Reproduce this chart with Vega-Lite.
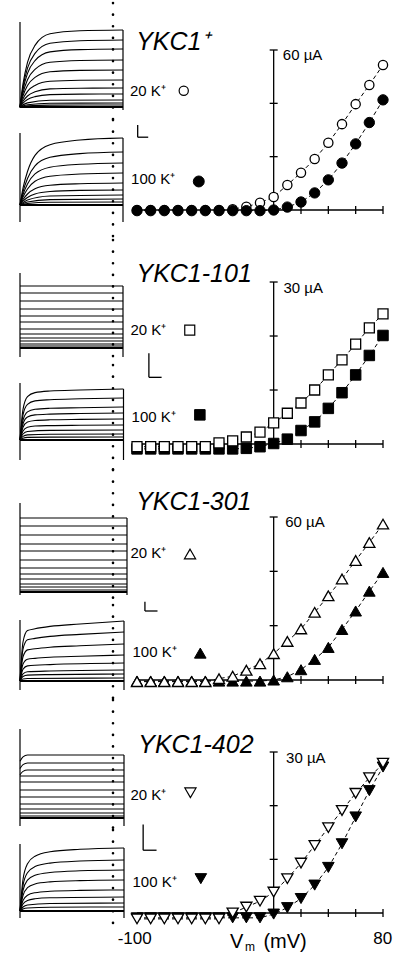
{
"$schema": "https://vega.github.io/schema/vega-lite/v6.json",
"padding": {"left": 17, "top": 0, "right": 0, "bottom": 0},
"background": "white",
"config": {"view": {"stroke": null}},
"spacing": 0,
"bounds": "flush",
"vconcat": [
{"width": 376, "height": 240, "resolve": {"scale": {"x": "independent", "y": "independent"}},
 "layer": [
  {"encoding": {"x": {"field": "t", "type": "quantitative", "scale": {"domain": [0, 7.52], "nice": false, "zero": false}, "axis": null},
                "y": {"field": "i", "type": "quantitative", "scale": {"domain": [-133, 107], "nice": false, "zero": false}, "axis": null}},
   "layer": [
    {"data": {"name": "tr"}, "transform": [{"filter": "datum.p == '1U'"}], "mark": {"type": "line", "interpolate": "monotone", "color": "black", "strokeWidth": 1.1}, "encoding": {"detail": {"field": "c", "type": "nominal"}}},
    {"data": {"name": "fr"}, "transform": [{"filter": "datum.p == '1U' && datum.k == 'f'"}], "mark": {"type": "rule", "color": "black", "strokeWidth": 1.2}, "encoding": {"x2": {"field": "t2"}, "y2": {"field": "i2"}}},
    {"data": {"name": "fr"}, "transform": [{"filter": "datum.p == '1U' && datum.k == 'b'"}], "mark": {"type": "rule", "color": "black", "strokeWidth": 2}, "encoding": {"x2": {"field": "t2"}, "y2": {"field": "i2"}}},
    {"data": {"name": "fr"}, "transform": [{"filter": "datum.p == '1U' && datum.k == 'd'"}], "mark": {"type": "rule", "color": "black", "strokeWidth": 2.6, "strokeCap": "round", "strokeDash": [0.1, 11.5]}, "encoding": {"x2": {"field": "t2"}, "y2": {"field": "i2"}}}
   ]},
  {"encoding": {"x": {"field": "t", "type": "quantitative", "scale": {"domain": [0, 7.52], "nice": false, "zero": false}, "axis": null},
                "y": {"field": "i", "type": "quantitative", "scale": {"domain": [-35, 205], "nice": false, "zero": false}, "axis": null}},
   "layer": [
    {"data": {"name": "tr"}, "transform": [{"filter": "datum.p == '1L'"}], "mark": {"type": "line", "interpolate": "monotone", "color": "black", "strokeWidth": 1.1}, "encoding": {"detail": {"field": "c", "type": "nominal"}}},
    {"data": {"name": "fr"}, "transform": [{"filter": "datum.p == '1L' && datum.k == 'f'"}], "mark": {"type": "rule", "color": "black", "strokeWidth": 1.2}, "encoding": {"x2": {"field": "t2"}, "y2": {"field": "i2"}}},
    {"data": {"name": "fr"}, "transform": [{"filter": "datum.p == '1L' && datum.k == 'b'"}], "mark": {"type": "rule", "color": "black", "strokeWidth": 2}, "encoding": {"x2": {"field": "t2"}, "y2": {"field": "i2"}}},
    {"data": {"name": "fr"}, "transform": [{"filter": "datum.p == '1L' && datum.k == 'd'"}], "mark": {"type": "rule", "color": "black", "strokeWidth": 2.6, "strokeCap": "round", "strokeDash": [0.1, 11.5]}, "encoding": {"x2": {"field": "t2"}, "y2": {"field": "i2"}}}
   ]},
  {"encoding": {"x": {"field": "v", "type": "quantitative", "scale": {"domain": [-185.61, 89.51], "nice": false, "zero": false}, "axis": null},
                "y": {"field": "i", "type": "quantitative", "scale": {"domain": [-11.25, 78.75], "nice": false, "zero": false}, "axis": null}},
   "layer": [
    {"data": {"name": "ivr"}, "transform": [{"filter": "datum.r == 1"}], "mark": {"type": "rule", "color": "black", "strokeWidth": 1.3}, "encoding": {"x2": {"field": "v2"}, "y2": {"field": "i2"}}},
    {"data": {"name": "ivt"}, "transform": [{"filter": "datum.r == 1 && datum.a == 'y'"}], "mark": {"type": "tick", "orient": "horizontal", "color": "black", "size": 8, "thickness": 1.3, "opacity": 1}},
    {"data": {"name": "ivt"}, "transform": [{"filter": "datum.r == 1 && datum.a == 'x'"}], "mark": {"type": "tick", "orient": "vertical", "color": "black", "size": 8, "thickness": 1.3, "opacity": 1}},
    {"data": {"name": "iv"}, "transform": [{"filter": "datum.r == 1"}], "mark": {"type": "line", "color": "black", "strokeWidth": 1, "strokeDash": [4, 3]}, "encoding": {"detail": {"field": "s", "type": "nominal"}}},
    {"data": {"name": "iv"}, "transform": [{"filter": "datum.r == 1 && datum.s == 'o'"}], "mark": {"type": "point", "shape": "circle", "filled": true, "fill": "white", "stroke": "black", "strokeWidth": 1.3, "size": 85, "opacity": 1}},
    {"data": {"name": "iv"}, "transform": [{"filter": "datum.r == 1 && datum.s == 'f'"}], "mark": {"type": "point", "shape": "circle", "filled": true, "fill": "black", "stroke": "black", "strokeWidth": 1, "size": 107, "opacity": 1}},
    {"data": {"name": "key"}, "transform": [{"filter": "datum.r == 1 && datum.s == 'o'"}], "mark": {"type": "point", "shape": "circle", "filled": true, "fill": "white", "stroke": "black", "strokeWidth": 1.2, "size": 85, "opacity": 1}},
    {"data": {"name": "key"}, "transform": [{"filter": "datum.r == 1 && datum.s == 'f'"}], "mark": {"type": "point", "shape": "circle", "filled": true, "fill": "black", "stroke": "black", "strokeWidth": 1, "size": 120, "opacity": 1}},
    {"data": {"name": "txt"}, "transform": [{"filter": "datum.r == 1 && datum.k == 'title'"}], "mark": {"type": "text", "align": "left", "baseline": "alphabetic", "fontSize": 25, "fontStyle": "italic", "font": "Liberation Sans", "color": "black"}, "encoding": {"text": {"field": "label"}}},
    {"data": {"name": "txt"}, "transform": [{"filter": "datum.r == 1 && datum.k == 'lab'"}], "mark": {"type": "text", "align": "left", "baseline": "alphabetic", "fontSize": 15, "font": "Liberation Sans", "color": "black"}, "encoding": {"text": {"field": "label"}}}
   ]}
 ]},
{"width": 376, "height": 230, "resolve": {"scale": {"x": "independent", "y": "independent"}},
 "layer": [
  {"encoding": {"x": {"field": "t", "type": "quantitative", "scale": {"domain": [0, 7.52], "nice": false, "zero": false}, "axis": null},
                "y": {"field": "i", "type": "quantitative", "scale": {"domain": [-122, 108], "nice": false, "zero": false}, "axis": null}},
   "layer": [
    {"data": {"name": "tr"}, "transform": [{"filter": "datum.p == '2U'"}], "mark": {"type": "line", "interpolate": "monotone", "color": "black", "strokeWidth": 1.1}, "encoding": {"detail": {"field": "c", "type": "nominal"}}},
    {"data": {"name": "fr"}, "transform": [{"filter": "datum.p == '2U' && datum.k == 'f'"}], "mark": {"type": "rule", "color": "black", "strokeWidth": 1.2}, "encoding": {"x2": {"field": "t2"}, "y2": {"field": "i2"}}},
    {"data": {"name": "fr"}, "transform": [{"filter": "datum.p == '2U' && datum.k == 'b'"}], "mark": {"type": "rule", "color": "black", "strokeWidth": 2}, "encoding": {"x2": {"field": "t2"}, "y2": {"field": "i2"}}},
    {"data": {"name": "fr"}, "transform": [{"filter": "datum.p == '2U' && datum.k == 'd'"}], "mark": {"type": "rule", "color": "black", "strokeWidth": 2.6, "strokeCap": "round", "strokeDash": [0.1, 11.5]}, "encoding": {"x2": {"field": "t2"}, "y2": {"field": "i2"}}}
   ]},
  {"encoding": {"x": {"field": "t", "type": "quantitative", "scale": {"domain": [0, 7.52], "nice": false, "zero": false}, "axis": null},
                "y": {"field": "i", "type": "quantitative", "scale": {"domain": [-30, 200], "nice": false, "zero": false}, "axis": null}},
   "layer": [
    {"data": {"name": "tr"}, "transform": [{"filter": "datum.p == '2L'"}], "mark": {"type": "line", "interpolate": "monotone", "color": "black", "strokeWidth": 1.1}, "encoding": {"detail": {"field": "c", "type": "nominal"}}},
    {"data": {"name": "fr"}, "transform": [{"filter": "datum.p == '2L' && datum.k == 'f'"}], "mark": {"type": "rule", "color": "black", "strokeWidth": 1.2}, "encoding": {"x2": {"field": "t2"}, "y2": {"field": "i2"}}},
    {"data": {"name": "fr"}, "transform": [{"filter": "datum.p == '2L' && datum.k == 'b'"}], "mark": {"type": "rule", "color": "black", "strokeWidth": 2}, "encoding": {"x2": {"field": "t2"}, "y2": {"field": "i2"}}},
    {"data": {"name": "fr"}, "transform": [{"filter": "datum.p == '2L' && datum.k == 'd'"}], "mark": {"type": "rule", "color": "black", "strokeWidth": 2.6, "strokeCap": "round", "strokeDash": [0.1, 11.5]}, "encoding": {"x2": {"field": "t2"}, "y2": {"field": "i2"}}}
   ]},
  {"encoding": {"x": {"field": "v", "type": "quantitative", "scale": {"domain": [-185.61, 89.51], "nice": false, "zero": false}, "axis": null},
                "y": {"field": "i", "type": "quantitative", "scale": {"domain": [-4.81, 37.78], "nice": false, "zero": false}, "axis": null}},
   "layer": [
    {"data": {"name": "ivr"}, "transform": [{"filter": "datum.r == 2"}], "mark": {"type": "rule", "color": "black", "strokeWidth": 1.3}, "encoding": {"x2": {"field": "v2"}, "y2": {"field": "i2"}}},
    {"data": {"name": "ivt"}, "transform": [{"filter": "datum.r == 2 && datum.a == 'y'"}], "mark": {"type": "tick", "orient": "horizontal", "color": "black", "size": 8, "thickness": 1.3, "opacity": 1}},
    {"data": {"name": "ivt"}, "transform": [{"filter": "datum.r == 2 && datum.a == 'x'"}], "mark": {"type": "tick", "orient": "vertical", "color": "black", "size": 8, "thickness": 1.3, "opacity": 1}},
    {"data": {"name": "iv"}, "transform": [{"filter": "datum.r == 2"}], "mark": {"type": "line", "color": "black", "strokeWidth": 1, "strokeDash": [4, 3]}, "encoding": {"detail": {"field": "s", "type": "nominal"}}},
    {"data": {"name": "iv"}, "transform": [{"filter": "datum.r == 2 && datum.s == 'f'"}], "mark": {"type": "point", "shape": "square", "filled": true, "fill": "black", "stroke": "black", "strokeWidth": 1, "size": 110, "opacity": 1}},
    {"data": {"name": "iv"}, "transform": [{"filter": "datum.r == 2 && datum.s == 'o'"}], "mark": {"type": "point", "shape": "square", "filled": true, "fill": "white", "stroke": "black", "strokeWidth": 1.3, "size": 100, "opacity": 1}},
    {"data": {"name": "key"}, "transform": [{"filter": "datum.r == 2 && datum.s == 'o'"}], "mark": {"type": "point", "shape": "square", "filled": true, "fill": "white", "stroke": "black", "strokeWidth": 1.2, "size": 100, "opacity": 1}},
    {"data": {"name": "key"}, "transform": [{"filter": "datum.r == 2 && datum.s == 'f'"}], "mark": {"type": "point", "shape": "square", "filled": true, "fill": "black", "stroke": "black", "strokeWidth": 1, "size": 110, "opacity": 1}},
    {"data": {"name": "txt"}, "transform": [{"filter": "datum.r == 2 && datum.k == 'title'"}], "mark": {"type": "text", "align": "left", "baseline": "alphabetic", "fontSize": 25, "fontStyle": "italic", "font": "Liberation Sans", "color": "black"}, "encoding": {"text": {"field": "label"}}},
    {"data": {"name": "txt"}, "transform": [{"filter": "datum.r == 2 && datum.k == 'lab'"}], "mark": {"type": "text", "align": "left", "baseline": "alphabetic", "fontSize": 15, "font": "Liberation Sans", "color": "black"}, "encoding": {"text": {"field": "label"}}}
   ]}
 ]},
{"width": 376, "height": 230, "resolve": {"scale": {"x": "independent", "y": "independent"}},
 "layer": [
  {"encoding": {"x": {"field": "t", "type": "quantitative", "scale": {"domain": [0, 7.52], "nice": false, "zero": false}, "axis": null},
                "y": {"field": "i", "type": "quantitative", "scale": {"domain": [-108, 122], "nice": false, "zero": false}, "axis": null}},
   "layer": [
    {"data": {"name": "tr"}, "transform": [{"filter": "datum.p == '3U'"}], "mark": {"type": "line", "interpolate": "monotone", "color": "black", "strokeWidth": 1.1}, "encoding": {"detail": {"field": "c", "type": "nominal"}}},
    {"data": {"name": "fr"}, "transform": [{"filter": "datum.p == '3U' && datum.k == 'f'"}], "mark": {"type": "rule", "color": "black", "strokeWidth": 1.2}, "encoding": {"x2": {"field": "t2"}, "y2": {"field": "i2"}}},
    {"data": {"name": "fr"}, "transform": [{"filter": "datum.p == '3U' && datum.k == 'b'"}], "mark": {"type": "rule", "color": "black", "strokeWidth": 2}, "encoding": {"x2": {"field": "t2"}, "y2": {"field": "i2"}}},
    {"data": {"name": "fr"}, "transform": [{"filter": "datum.p == '3U' && datum.k == 'd'"}], "mark": {"type": "rule", "color": "black", "strokeWidth": 2.6, "strokeCap": "round", "strokeDash": [0.1, 11.5]}, "encoding": {"x2": {"field": "t2"}, "y2": {"field": "i2"}}}
   ]},
  {"encoding": {"x": {"field": "t", "type": "quantitative", "scale": {"domain": [0, 7.52], "nice": false, "zero": false}, "axis": null},
                "y": {"field": "i", "type": "quantitative", "scale": {"domain": [-19, 211], "nice": false, "zero": false}, "axis": null}},
   "layer": [
    {"data": {"name": "tr"}, "transform": [{"filter": "datum.p == '3L'"}], "mark": {"type": "line", "interpolate": "monotone", "color": "black", "strokeWidth": 1.1}, "encoding": {"detail": {"field": "c", "type": "nominal"}}},
    {"data": {"name": "fr"}, "transform": [{"filter": "datum.p == '3L' && datum.k == 'f'"}], "mark": {"type": "rule", "color": "black", "strokeWidth": 1.2}, "encoding": {"x2": {"field": "t2"}, "y2": {"field": "i2"}}},
    {"data": {"name": "fr"}, "transform": [{"filter": "datum.p == '3L' && datum.k == 'b'"}], "mark": {"type": "rule", "color": "black", "strokeWidth": 2}, "encoding": {"x2": {"field": "t2"}, "y2": {"field": "i2"}}},
    {"data": {"name": "fr"}, "transform": [{"filter": "datum.p == '3L' && datum.k == 'd'"}], "mark": {"type": "rule", "color": "black", "strokeWidth": 2.6, "strokeCap": "round", "strokeDash": [0.1, 11.5]}, "encoding": {"x2": {"field": "t2"}, "y2": {"field": "i2"}}}
   ]},
  {"encoding": {"x": {"field": "v", "type": "quantitative", "scale": {"domain": [-185.61, 89.51], "nice": false, "zero": false}, "axis": null},
                "y": {"field": "i", "type": "quantitative", "scale": {"domain": [-7.36, 77.3], "nice": false, "zero": false}, "axis": null}},
   "layer": [
    {"data": {"name": "ivr"}, "transform": [{"filter": "datum.r == 3"}], "mark": {"type": "rule", "color": "black", "strokeWidth": 1.3}, "encoding": {"x2": {"field": "v2"}, "y2": {"field": "i2"}}},
    {"data": {"name": "ivt"}, "transform": [{"filter": "datum.r == 3 && datum.a == 'y'"}], "mark": {"type": "tick", "orient": "horizontal", "color": "black", "size": 8, "thickness": 1.3, "opacity": 1}},
    {"data": {"name": "ivt"}, "transform": [{"filter": "datum.r == 3 && datum.a == 'x'"}], "mark": {"type": "tick", "orient": "vertical", "color": "black", "size": 8, "thickness": 1.3, "opacity": 1}},
    {"data": {"name": "iv"}, "transform": [{"filter": "datum.r == 3"}], "mark": {"type": "line", "color": "black", "strokeWidth": 1, "strokeDash": [4, 3]}, "encoding": {"detail": {"field": "s", "type": "nominal"}}},
    {"data": {"name": "iv"}, "transform": [{"filter": "datum.r == 3 && datum.s == 'f'"}], "mark": {"type": "point", "shape": "triangle-up", "filled": true, "fill": "black", "stroke": "black", "strokeWidth": 1, "size": 135, "opacity": 1}},
    {"data": {"name": "iv"}, "transform": [{"filter": "datum.r == 3 && datum.s == 'o'"}], "mark": {"type": "point", "shape": "triangle-up", "filled": true, "fill": "white", "stroke": "black", "strokeWidth": 1.3, "size": 125, "opacity": 1}},
    {"data": {"name": "key"}, "transform": [{"filter": "datum.r == 3 && datum.s == 'o'"}], "mark": {"type": "point", "shape": "triangle-up", "filled": true, "fill": "white", "stroke": "black", "strokeWidth": 1.2, "size": 125, "opacity": 1}},
    {"data": {"name": "key"}, "transform": [{"filter": "datum.r == 3 && datum.s == 'f'"}], "mark": {"type": "point", "shape": "triangle-up", "filled": true, "fill": "black", "stroke": "black", "strokeWidth": 1, "size": 135, "opacity": 1}},
    {"data": {"name": "txt"}, "transform": [{"filter": "datum.r == 3 && datum.k == 'title'"}], "mark": {"type": "text", "align": "left", "baseline": "alphabetic", "fontSize": 25, "fontStyle": "italic", "font": "Liberation Sans", "color": "black"}, "encoding": {"text": {"field": "label"}}},
    {"data": {"name": "txt"}, "transform": [{"filter": "datum.r == 3 && datum.k == 'lab'"}], "mark": {"type": "text", "align": "left", "baseline": "alphabetic", "fontSize": 15, "font": "Liberation Sans", "color": "black"}, "encoding": {"text": {"field": "label"}}}
   ]}
 ]},
{"width": 376, "height": 256, "resolve": {"scale": {"x": "independent", "y": "independent"}},
 "layer": [
  {"encoding": {"x": {"field": "t", "type": "quantitative", "scale": {"domain": [0, 7.52], "nice": false, "zero": false}, "axis": null},
                "y": {"field": "i", "type": "quantitative", "scale": {"domain": [-138, 118], "nice": false, "zero": false}, "axis": null}},
   "layer": [
    {"data": {"name": "tr"}, "transform": [{"filter": "datum.p == '4U'"}], "mark": {"type": "line", "interpolate": "monotone", "color": "black", "strokeWidth": 1.1}, "encoding": {"detail": {"field": "c", "type": "nominal"}}},
    {"data": {"name": "fr"}, "transform": [{"filter": "datum.p == '4U' && datum.k == 'f'"}], "mark": {"type": "rule", "color": "black", "strokeWidth": 1.2}, "encoding": {"x2": {"field": "t2"}, "y2": {"field": "i2"}}},
    {"data": {"name": "fr"}, "transform": [{"filter": "datum.p == '4U' && datum.k == 'b'"}], "mark": {"type": "rule", "color": "black", "strokeWidth": 2}, "encoding": {"x2": {"field": "t2"}, "y2": {"field": "i2"}}},
    {"data": {"name": "fr"}, "transform": [{"filter": "datum.p == '4U' && datum.k == 'd'"}], "mark": {"type": "rule", "color": "black", "strokeWidth": 2.6, "strokeCap": "round", "strokeDash": [0.1, 11.5]}, "encoding": {"x2": {"field": "t2"}, "y2": {"field": "i2"}}}
   ]},
  {"encoding": {"x": {"field": "t", "type": "quantitative", "scale": {"domain": [0, 7.52], "nice": false, "zero": false}, "axis": null},
                "y": {"field": "i", "type": "quantitative", "scale": {"domain": [-45, 211], "nice": false, "zero": false}, "axis": null}},
   "layer": [
    {"data": {"name": "tr"}, "transform": [{"filter": "datum.p == '4L'"}], "mark": {"type": "line", "interpolate": "monotone", "color": "black", "strokeWidth": 1.1}, "encoding": {"detail": {"field": "c", "type": "nominal"}}},
    {"data": {"name": "fr"}, "transform": [{"filter": "datum.p == '4L' && datum.k == 'f'"}], "mark": {"type": "rule", "color": "black", "strokeWidth": 1.2}, "encoding": {"x2": {"field": "t2"}, "y2": {"field": "i2"}}},
    {"data": {"name": "fr"}, "transform": [{"filter": "datum.p == '4L' && datum.k == 'b'"}], "mark": {"type": "rule", "color": "black", "strokeWidth": 2}, "encoding": {"x2": {"field": "t2"}, "y2": {"field": "i2"}}},
    {"data": {"name": "fr"}, "transform": [{"filter": "datum.p == '4L' && datum.k == 'd'"}], "mark": {"type": "rule", "color": "black", "strokeWidth": 2.6, "strokeCap": "round", "strokeDash": [0.1, 11.5]}, "encoding": {"x2": {"field": "t2"}, "y2": {"field": "i2"}}}
   ]},
  {"encoding": {"x": {"field": "v", "type": "quantitative", "scale": {"domain": [-185.61, 89.51], "nice": false, "zero": false}, "axis": null},
                "y": {"field": "i", "type": "quantitative", "scale": {"domain": [-8.01, 39.69], "nice": false, "zero": false}, "axis": null}},
   "layer": [
    {"data": {"name": "ivr"}, "transform": [{"filter": "datum.r == 4"}], "mark": {"type": "rule", "color": "black", "strokeWidth": 1.3}, "encoding": {"x2": {"field": "v2"}, "y2": {"field": "i2"}}},
    {"data": {"name": "ivt"}, "transform": [{"filter": "datum.r == 4 && datum.a == 'y'"}], "mark": {"type": "tick", "orient": "horizontal", "color": "black", "size": 8, "thickness": 1.3, "opacity": 1}},
    {"data": {"name": "ivt"}, "transform": [{"filter": "datum.r == 4 && datum.a == 'x'"}], "mark": {"type": "tick", "orient": "vertical", "color": "black", "size": 8, "thickness": 1.3, "opacity": 1}},
    {"data": {"name": "iv"}, "transform": [{"filter": "datum.r == 4"}], "mark": {"type": "line", "color": "black", "strokeWidth": 1, "strokeDash": [4, 3]}, "encoding": {"detail": {"field": "s", "type": "nominal"}}},
    {"data": {"name": "iv"}, "transform": [{"filter": "datum.r == 4 && datum.s == 'f'"}], "mark": {"type": "point", "shape": "triangle-down", "filled": true, "fill": "black", "stroke": "black", "strokeWidth": 1, "size": 135, "opacity": 1}},
    {"data": {"name": "iv"}, "transform": [{"filter": "datum.r == 4 && datum.s == 'o'"}], "mark": {"type": "point", "shape": "triangle-down", "filled": true, "fill": "white", "stroke": "black", "strokeWidth": 1.3, "size": 125, "opacity": 1}},
    {"data": {"name": "key"}, "transform": [{"filter": "datum.r == 4 && datum.s == 'o'"}], "mark": {"type": "point", "shape": "triangle-down", "filled": true, "fill": "white", "stroke": "black", "strokeWidth": 1.2, "size": 125, "opacity": 1}},
    {"data": {"name": "key"}, "transform": [{"filter": "datum.r == 4 && datum.s == 'f'"}], "mark": {"type": "point", "shape": "triangle-down", "filled": true, "fill": "black", "stroke": "black", "strokeWidth": 1, "size": 135, "opacity": 1}},
    {"data": {"name": "txt"}, "transform": [{"filter": "datum.r == 4 && datum.k == 'title'"}], "mark": {"type": "text", "align": "left", "baseline": "alphabetic", "fontSize": 25, "fontStyle": "italic", "font": "Liberation Sans", "color": "black"}, "encoding": {"text": {"field": "label"}}},
    {"data": {"name": "txt"}, "transform": [{"filter": "datum.r == 4 && datum.k == 'lab'"}], "mark": {"type": "text", "align": "left", "baseline": "alphabetic", "fontSize": 15, "font": "Liberation Sans", "color": "black"}, "encoding": {"text": {"field": "label"}}},
    {"data": {"name": "txt"}, "transform": [{"filter": "datum.r == 4 && datum.k == 'tick'"}], "mark": {"type": "text", "align": "center", "baseline": "alphabetic", "fontSize": 17, "font": "Liberation Sans", "color": "black"}, "encoding": {"text": {"field": "label"}}},
    {"data": {"name": "txt"}, "transform": [{"filter": "datum.r == 4 && datum.k == 'vt'"}], "mark": {"type": "text", "align": "left", "baseline": "alphabetic", "fontSize": 20, "font": "Liberation Sans", "color": "black"}, "encoding": {"text": {"field": "label"}}},
    {"data": {"name": "txt"}, "transform": [{"filter": "datum.r == 4 && datum.k == 'sub'"}], "mark": {"type": "text", "align": "left", "baseline": "alphabetic", "fontSize": 12, "font": "Liberation Sans", "color": "black"}, "encoding": {"text": {"field": "label"}}}
   ]}
 ]}
],
"datasets": {
"fr": [
{"p":"1U","k":"f","t":0,"t2":0,"i":85,"i2":-1},{"p":"1U","k":"f","t":2.06,"t2":2.06,"i":77,"i2":-3},{"p":"1U","k":"b","t":0,"t2":2.06,"i":0,"i2":0},{"p":"1U","k":"d","t":1.86,"t2":1.86,"i":104,"i2":-13},
{"p":"1L","k":"f","t":0,"t2":0,"i":72,"i2":-17},{"p":"1L","k":"f","t":2.06,"t2":2.06,"i":67,"i2":-17},{"p":"1L","k":"b","t":0,"t2":2.06,"i":0,"i2":0},{"p":"1L","k":"d","t":1.86,"t2":1.86,"i":85,"i2":-35},
{"p":"2U","k":"f","t":0,"t2":0,"i":75,"i2":-9},{"p":"2U","k":"f","t":2.06,"t2":2.06,"i":62,"i2":-9},{"p":"2U","k":"b","t":0,"t2":2.06,"i":0,"i2":0},{"p":"2U","k":"d","t":1.86,"t2":1.86,"i":108,"i2":-17},
{"p":"2L","k":"f","t":0,"t2":0,"i":57,"i2":-20},{"p":"2L","k":"f","t":2.07,"t2":2.07,"i":51,"i2":-20},{"p":"2L","k":"b","t":0,"t2":2.07,"i":0,"i2":0},{"p":"2L","k":"d","t":1.86,"t2":1.86,"i":75,"i2":-30},
{"p":"3U","k":"f","t":0,"t2":0,"i":89,"i2":-3},{"p":"3U","k":"f","t":2.14,"t2":2.14,"i":74,"i2":-3},{"p":"3U","k":"b","t":0,"t2":2.14,"i":0,"i2":0},{"p":"3U","k":"d","t":1.86,"t2":1.86,"i":122,"i2":-13},
{"p":"3L","k":"f","t":0,"t2":0,"i":61,"i2":-9},{"p":"3L","k":"f","t":2.08,"t2":2.08,"i":60,"i2":-9},{"p":"3L","k":"b","t":0,"t2":2.08,"i":0,"i2":0},{"p":"3L","k":"d","t":1.86,"t2":1.86,"i":76,"i2":-19},
{"p":"4U","k":"f","t":0,"t2":0,"i":89,"i2":-8},{"p":"4U","k":"f","t":2.08,"t2":2.08,"i":63,"i2":-8},{"p":"4U","k":"b","t":0,"t2":2.08,"i":0,"i2":0},{"p":"4U","k":"d","t":1.86,"t2":1.86,"i":118,"i2":-12},
{"p":"4L","k":"f","t":0,"t2":0,"i":67,"i2":-7},{"p":"4L","k":"f","t":2.08,"t2":2.08,"i":63,"i2":-7},{"p":"4L","k":"b","t":0,"t2":2.08,"i":0,"i2":0},{"p":"4L","k":"d","t":1.86,"t2":1.86,"i":81,"i2":-17}
],
"tr": [
{"p":"1U","c":1,"t":0,"i":0},{"p":"1U","c":1,"t":0.06,"i":23.1},{"p":"1U","c":1,"t":0.15,"i":44.7},{"p":"1U","c":1,"t":0.3,"i":61.6},{"p":"1U","c":1,"t":0.6,"i":73.2},{"p":"1U","c":1,"t":1.2,"i":76.2},{"p":"1U","c":1,"t":2.06,"i":77},
{"p":"1U","c":2,"t":0,"i":0},{"p":"1U","c":2,"t":0.06,"i":20.1},{"p":"1U","c":2,"t":0.15,"i":38.9},{"p":"1U","c":2,"t":0.3,"i":53.6},{"p":"1U","c":2,"t":0.6,"i":63.7},{"p":"1U","c":2,"t":1.2,"i":66.3},{"p":"1U","c":2,"t":2.06,"i":67},
{"p":"1U","c":3,"t":0,"i":0},{"p":"1U","c":3,"t":0.06,"i":17.4},{"p":"1U","c":3,"t":0.15,"i":33.6},{"p":"1U","c":3,"t":0.3,"i":46.4},{"p":"1U","c":3,"t":0.6,"i":55.1},{"p":"1U","c":3,"t":1.2,"i":57.4},{"p":"1U","c":3,"t":2.06,"i":58},
{"p":"1U","c":4,"t":0,"i":0},{"p":"1U","c":4,"t":0.06,"i":14.1},{"p":"1U","c":4,"t":0.15,"i":27.3},{"p":"1U","c":4,"t":0.3,"i":37.6},{"p":"1U","c":4,"t":0.6,"i":44.7},{"p":"1U","c":4,"t":1.2,"i":46.5},{"p":"1U","c":4,"t":2.06,"i":47},
{"p":"1U","c":5,"t":0,"i":0},{"p":"1U","c":5,"t":0.06,"i":11.1},{"p":"1U","c":5,"t":0.15,"i":21.5},{"p":"1U","c":5,"t":0.3,"i":29.6},{"p":"1U","c":5,"t":0.6,"i":35.2},{"p":"1U","c":5,"t":1.2,"i":36.6},{"p":"1U","c":5,"t":2.06,"i":37},
{"p":"1U","c":6,"t":0,"i":0},{"p":"1U","c":6,"t":0.06,"i":8.1},{"p":"1U","c":6,"t":0.15,"i":15.7},{"p":"1U","c":6,"t":0.3,"i":21.6},{"p":"1U","c":6,"t":0.6,"i":25.7},{"p":"1U","c":6,"t":1.2,"i":26.7},{"p":"1U","c":6,"t":2.06,"i":27},
{"p":"1U","c":7,"t":0,"i":0},{"p":"1U","c":7,"t":0.06,"i":5.7},{"p":"1U","c":7,"t":0.15,"i":11},{"p":"1U","c":7,"t":0.3,"i":15.2},{"p":"1U","c":7,"t":0.6,"i":18.1},{"p":"1U","c":7,"t":1.2,"i":18.8},{"p":"1U","c":7,"t":2.06,"i":19},
{"p":"1U","c":8,"t":0,"i":0},{"p":"1U","c":8,"t":0.06,"i":3.9},{"p":"1U","c":8,"t":0.15,"i":7.5},{"p":"1U","c":8,"t":0.3,"i":10.4},{"p":"1U","c":8,"t":0.6,"i":12.4},{"p":"1U","c":8,"t":1.2,"i":12.9},{"p":"1U","c":8,"t":2.06,"i":13},
{"p":"1U","c":9,"t":0,"i":0},{"p":"1U","c":9,"t":0.15,"i":4.1},{"p":"1U","c":9,"t":0.6,"i":6.7},{"p":"1U","c":9,"t":2.06,"i":7},
{"p":"1U","c":10,"t":0,"i":0},{"p":"1U","c":10,"t":0.15,"i":2.3},{"p":"1U","c":10,"t":0.6,"i":3.8},{"p":"1U","c":10,"t":2.06,"i":4},
{"p":"1U","c":11,"t":0,"i":0},{"p":"1U","c":11,"t":0.15,"i":1.2},{"p":"1U","c":11,"t":0.6,"i":1.9},{"p":"1U","c":11,"t":2.06,"i":2},
{"p":"1L","c":1,"t":0,"i":0},{"p":"1L","c":1,"t":0.06,"i":16.8},{"p":"1L","c":1,"t":0.15,"i":33.5},{"p":"1L","c":1,"t":0.3,"i":49.6},{"p":"1L","c":1,"t":0.6,"i":60.3},{"p":"1L","c":1,"t":1.2,"i":65},{"p":"1L","c":1,"t":2.06,"i":67},
{"p":"1L","c":2,"t":0,"i":0},{"p":"1L","c":2,"t":0.06,"i":13.3},{"p":"1L","c":2,"t":0.15,"i":26.5},{"p":"1L","c":2,"t":0.3,"i":39.2},{"p":"1L","c":2,"t":0.6,"i":47.7},{"p":"1L","c":2,"t":1.2,"i":51.4},{"p":"1L","c":2,"t":2.06,"i":53},
{"p":"1L","c":3,"t":0,"i":0},{"p":"1L","c":3,"t":0.06,"i":10.5},{"p":"1L","c":3,"t":0.15,"i":21},{"p":"1L","c":3,"t":0.3,"i":31.1},{"p":"1L","c":3,"t":0.6,"i":37.8},{"p":"1L","c":3,"t":1.2,"i":40.7},{"p":"1L","c":3,"t":2.06,"i":42},
{"p":"1L","c":4,"t":0,"i":0},{"p":"1L","c":4,"t":0.06,"i":8},{"p":"1L","c":4,"t":0.15,"i":16},{"p":"1L","c":4,"t":0.3,"i":23.7},{"p":"1L","c":4,"t":0.6,"i":28.8},{"p":"1L","c":4,"t":1.2,"i":31},{"p":"1L","c":4,"t":2.06,"i":32},
{"p":"1L","c":5,"t":0,"i":0},{"p":"1L","c":5,"t":0.06,"i":5.5},{"p":"1L","c":5,"t":0.15,"i":11},{"p":"1L","c":5,"t":0.3,"i":16.3},{"p":"1L","c":5,"t":0.6,"i":19.8},{"p":"1L","c":5,"t":1.2,"i":21.3},{"p":"1L","c":5,"t":2.06,"i":22},
{"p":"1L","c":6,"t":0,"i":0},{"p":"1L","c":6,"t":0.06,"i":3.8},{"p":"1L","c":6,"t":0.15,"i":7.5},{"p":"1L","c":6,"t":0.3,"i":11.1},{"p":"1L","c":6,"t":0.6,"i":13.5},{"p":"1L","c":6,"t":1.2,"i":14.6},{"p":"1L","c":6,"t":2.06,"i":15},
{"p":"1L","c":7,"t":0,"i":0},{"p":"1L","c":7,"t":0.15,"i":5},{"p":"1L","c":7,"t":0.6,"i":9},{"p":"1L","c":7,"t":2.06,"i":10},
{"p":"1L","c":8,"t":0,"i":0},{"p":"1L","c":8,"t":0.15,"i":3},{"p":"1L","c":8,"t":0.6,"i":5.4},{"p":"1L","c":8,"t":2.06,"i":6},
{"p":"1L","c":9,"t":0,"i":0},{"p":"1L","c":9,"t":0.15,"i":1.5},{"p":"1L","c":9,"t":0.6,"i":2.7},{"p":"1L","c":9,"t":2.06,"i":3},
{"p":"2U","c":1,"t":0,"i":62},{"p":"2U","c":1,"t":2.06,"i":62},
{"p":"2U","c":2,"t":0,"i":55},{"p":"2U","c":2,"t":2.06,"i":55},
{"p":"2U","c":3,"t":0,"i":47},{"p":"2U","c":3,"t":2.06,"i":47},
{"p":"2U","c":4,"t":0,"i":39},{"p":"2U","c":4,"t":2.06,"i":39},
{"p":"2U","c":5,"t":0,"i":32},{"p":"2U","c":5,"t":2.06,"i":32},
{"p":"2U","c":6,"t":0,"i":26},{"p":"2U","c":6,"t":2.06,"i":26},
{"p":"2U","c":7,"t":0,"i":19},{"p":"2U","c":7,"t":2.06,"i":19},
{"p":"2U","c":8,"t":0,"i":14},{"p":"2U","c":8,"t":2.06,"i":14},
{"p":"2U","c":9,"t":0,"i":10},{"p":"2U","c":9,"t":2.06,"i":10},
{"p":"2U","c":10,"t":0,"i":7},{"p":"2U","c":10,"t":2.06,"i":7},
{"p":"2U","c":11,"t":0,"i":4},{"p":"2U","c":11,"t":2.06,"i":4},
{"p":"2U","c":12,"t":0,"i":2},{"p":"2U","c":12,"t":2.06,"i":2},
{"p":"2L","c":1,"t":0,"i":0},{"p":"2L","c":1,"t":0.06,"i":30.6},{"p":"2L","c":1,"t":0.15,"i":43.4},{"p":"2L","c":1,"t":0.3,"i":47.4},{"p":"2L","c":1,"t":0.6,"i":49},{"p":"2L","c":1,"t":1.2,"i":50},{"p":"2L","c":1,"t":2.07,"i":51},
{"p":"2L","c":2,"t":0,"i":0},{"p":"2L","c":2,"t":0.06,"i":25.2},{"p":"2L","c":2,"t":0.15,"i":35.7},{"p":"2L","c":2,"t":0.3,"i":39.1},{"p":"2L","c":2,"t":0.6,"i":40.3},{"p":"2L","c":2,"t":1.2,"i":41.2},{"p":"2L","c":2,"t":2.07,"i":42},
{"p":"2L","c":3,"t":0,"i":0},{"p":"2L","c":3,"t":0.06,"i":19.8},{"p":"2L","c":3,"t":0.15,"i":28.1},{"p":"2L","c":3,"t":0.3,"i":30.7},{"p":"2L","c":3,"t":0.6,"i":31.7},{"p":"2L","c":3,"t":1.2,"i":32.3},{"p":"2L","c":3,"t":2.07,"i":33},
{"p":"2L","c":4,"t":0,"i":0},{"p":"2L","c":4,"t":0.06,"i":16.2},{"p":"2L","c":4,"t":0.15,"i":23},{"p":"2L","c":4,"t":0.3,"i":25.1},{"p":"2L","c":4,"t":0.6,"i":25.9},{"p":"2L","c":4,"t":1.2,"i":26.5},{"p":"2L","c":4,"t":2.07,"i":27},
{"p":"2L","c":5,"t":0,"i":0},{"p":"2L","c":5,"t":0.06,"i":12.6},{"p":"2L","c":5,"t":0.15,"i":17.9},{"p":"2L","c":5,"t":0.3,"i":19.5},{"p":"2L","c":5,"t":0.6,"i":20.2},{"p":"2L","c":5,"t":1.2,"i":20.6},{"p":"2L","c":5,"t":2.07,"i":21},
{"p":"2L","c":6,"t":0,"i":0},{"p":"2L","c":6,"t":0.06,"i":9},{"p":"2L","c":6,"t":0.15,"i":12.8},{"p":"2L","c":6,"t":0.3,"i":14},{"p":"2L","c":6,"t":0.6,"i":14.4},{"p":"2L","c":6,"t":1.2,"i":14.7},{"p":"2L","c":6,"t":2.07,"i":15},
{"p":"2L","c":7,"t":0,"i":0},{"p":"2L","c":7,"t":0.06,"i":6},{"p":"2L","c":7,"t":0.15,"i":8.5},{"p":"2L","c":7,"t":0.6,"i":9.6},{"p":"2L","c":7,"t":2.07,"i":10},
{"p":"2L","c":8,"t":0,"i":0},{"p":"2L","c":8,"t":0.06,"i":3.6},{"p":"2L","c":8,"t":0.15,"i":5.1},{"p":"2L","c":8,"t":0.6,"i":5.8},{"p":"2L","c":8,"t":2.07,"i":6},
{"p":"2L","c":9,"t":0,"i":0},{"p":"2L","c":9,"t":0.06,"i":1.8},{"p":"2L","c":9,"t":0.15,"i":2.6},{"p":"2L","c":9,"t":0.6,"i":2.9},{"p":"2L","c":9,"t":2.07,"i":3},
{"p":"3U","c":1,"t":0,"i":74},{"p":"3U","c":1,"t":2.14,"i":74},
{"p":"3U","c":2,"t":0,"i":66},{"p":"3U","c":2,"t":2.14,"i":66},
{"p":"3U","c":3,"t":0,"i":57},{"p":"3U","c":3,"t":2.14,"i":57},
{"p":"3U","c":4,"t":0,"i":48},{"p":"3U","c":4,"t":2.14,"i":48},
{"p":"3U","c":5,"t":0,"i":41},{"p":"3U","c":5,"t":2.14,"i":41},
{"p":"3U","c":6,"t":0,"i":32},{"p":"3U","c":6,"t":2.14,"i":32},
{"p":"3U","c":7,"t":0,"i":24},{"p":"3U","c":7,"t":2.14,"i":24},
{"p":"3U","c":8,"t":0,"i":18},{"p":"3U","c":8,"t":2.14,"i":18},
{"p":"3U","c":9,"t":0,"i":13},{"p":"3U","c":9,"t":2.14,"i":13},
{"p":"3U","c":10,"t":0,"i":8},{"p":"3U","c":10,"t":2.14,"i":8},
{"p":"3U","c":11,"t":0,"i":5},{"p":"3U","c":11,"t":2.14,"i":5},
{"p":"3U","c":12,"t":0,"i":2},{"p":"3U","c":12,"t":2.14,"i":2},
{"p":"3L","c":1,"t":0,"i":0},{"p":"3L","c":1,"t":0.06,"i":39},{"p":"3L","c":1,"t":0.15,"i":50.4},{"p":"3L","c":1,"t":0.3,"i":52.2},{"p":"3L","c":1,"t":0.6,"i":54.6},{"p":"3L","c":1,"t":1.2,"i":57},{"p":"3L","c":1,"t":2.08,"i":60},
{"p":"3L","c":2,"t":0,"i":0},{"p":"3L","c":2,"t":0.06,"i":31.9},{"p":"3L","c":2,"t":0.15,"i":41.2},{"p":"3L","c":2,"t":0.3,"i":42.6},{"p":"3L","c":2,"t":0.6,"i":44.6},{"p":"3L","c":2,"t":1.2,"i":46.6},{"p":"3L","c":2,"t":2.08,"i":49},
{"p":"3L","c":3,"t":0,"i":0},{"p":"3L","c":3,"t":0.06,"i":24.1},{"p":"3L","c":3,"t":0.15,"i":31.1},{"p":"3L","c":3,"t":0.3,"i":32.2},{"p":"3L","c":3,"t":0.6,"i":33.7},{"p":"3L","c":3,"t":1.2,"i":35.2},{"p":"3L","c":3,"t":2.08,"i":37},
{"p":"3L","c":4,"t":0,"i":0},{"p":"3L","c":4,"t":0.06,"i":16.9},{"p":"3L","c":4,"t":0.15,"i":21.8},{"p":"3L","c":4,"t":0.3,"i":22.6},{"p":"3L","c":4,"t":0.6,"i":23.7},{"p":"3L","c":4,"t":1.2,"i":24.7},{"p":"3L","c":4,"t":2.08,"i":26},
{"p":"3L","c":5,"t":0,"i":0},{"p":"3L","c":5,"t":0.06,"i":11.7},{"p":"3L","c":5,"t":0.15,"i":15.1},{"p":"3L","c":5,"t":0.6,"i":16.4},{"p":"3L","c":5,"t":2.08,"i":18},
{"p":"3L","c":6,"t":0,"i":0},{"p":"3L","c":6,"t":0.06,"i":7.2},{"p":"3L","c":6,"t":0.15,"i":9.2},{"p":"3L","c":6,"t":0.6,"i":10},{"p":"3L","c":6,"t":2.08,"i":11},
{"p":"3L","c":7,"t":0,"i":0},{"p":"3L","c":7,"t":0.06,"i":4.6},{"p":"3L","c":7,"t":0.15,"i":5.9},{"p":"3L","c":7,"t":0.6,"i":6.4},{"p":"3L","c":7,"t":2.08,"i":7},
{"p":"3L","c":8,"t":0,"i":0},{"p":"3L","c":8,"t":0.06,"i":2},{"p":"3L","c":8,"t":0.15,"i":2.5},{"p":"3L","c":8,"t":2.08,"i":3},
{"p":"4U","c":1,"t":0,"i":56.7},{"p":"4U","c":1,"t":0.06,"i":61.1},{"p":"4U","c":1,"t":0.15,"i":63},{"p":"4U","c":1,"t":2.08,"i":63},
{"p":"4U","c":2,"t":0,"i":49.5},{"p":"4U","c":2,"t":0.06,"i":53.4},{"p":"4U","c":2,"t":0.15,"i":55},{"p":"4U","c":2,"t":2.08,"i":55},
{"p":"4U","c":3,"t":0,"i":43.2},{"p":"4U","c":3,"t":0.06,"i":46.6},{"p":"4U","c":3,"t":0.15,"i":48},{"p":"4U","c":3,"t":2.08,"i":48},
{"p":"4U","c":4,"t":0,"i":42},{"p":"4U","c":4,"t":2.08,"i":42},
{"p":"4U","c":5,"t":0,"i":36},{"p":"4U","c":5,"t":2.08,"i":36},
{"p":"4U","c":6,"t":0,"i":28},{"p":"4U","c":6,"t":2.08,"i":28},
{"p":"4U","c":7,"t":0,"i":21},{"p":"4U","c":7,"t":2.08,"i":21},
{"p":"4U","c":8,"t":0,"i":14},{"p":"4U","c":8,"t":2.08,"i":14},
{"p":"4U","c":9,"t":0,"i":9},{"p":"4U","c":9,"t":2.08,"i":9},
{"p":"4U","c":10,"t":0,"i":5},{"p":"4U","c":10,"t":2.08,"i":5},
{"p":"4U","c":11,"t":0,"i":2},{"p":"4U","c":11,"t":2.08,"i":2},
{"p":"4L","c":1,"t":0,"i":0},{"p":"4L","c":1,"t":0.06,"i":31.5},{"p":"4L","c":1,"t":0.15,"i":47.3},{"p":"4L","c":1,"t":0.3,"i":54.8},{"p":"4L","c":1,"t":0.6,"i":59.2},{"p":"4L","c":1,"t":1.2,"i":61.7},{"p":"4L","c":1,"t":2.08,"i":63},
{"p":"4L","c":2,"t":0,"i":0},{"p":"4L","c":2,"t":0.06,"i":25.5},{"p":"4L","c":2,"t":0.15,"i":38.3},{"p":"4L","c":2,"t":0.3,"i":44.4},{"p":"4L","c":2,"t":0.6,"i":47.9},{"p":"4L","c":2,"t":1.2,"i":50},{"p":"4L","c":2,"t":2.08,"i":51},
{"p":"4L","c":3,"t":0,"i":0},{"p":"4L","c":3,"t":0.06,"i":20.5},{"p":"4L","c":3,"t":0.15,"i":30.8},{"p":"4L","c":3,"t":0.3,"i":35.7},{"p":"4L","c":3,"t":0.6,"i":38.5},{"p":"4L","c":3,"t":1.2,"i":40.2},{"p":"4L","c":3,"t":2.08,"i":41},
{"p":"4L","c":4,"t":0,"i":0},{"p":"4L","c":4,"t":0.06,"i":15.5},{"p":"4L","c":4,"t":0.15,"i":23.3},{"p":"4L","c":4,"t":0.3,"i":27},{"p":"4L","c":4,"t":0.6,"i":29.1},{"p":"4L","c":4,"t":1.2,"i":30.4},{"p":"4L","c":4,"t":2.08,"i":31},
{"p":"4L","c":5,"t":0,"i":0},{"p":"4L","c":5,"t":0.06,"i":10.5},{"p":"4L","c":5,"t":0.15,"i":15.8},{"p":"4L","c":5,"t":0.3,"i":18.3},{"p":"4L","c":5,"t":0.6,"i":19.7},{"p":"4L","c":5,"t":1.2,"i":20.6},{"p":"4L","c":5,"t":2.08,"i":21},
{"p":"4L","c":6,"t":0,"i":0},{"p":"4L","c":6,"t":0.06,"i":7},{"p":"4L","c":6,"t":0.15,"i":10.5},{"p":"4L","c":6,"t":0.3,"i":12.2},{"p":"4L","c":6,"t":0.6,"i":13.2},{"p":"4L","c":6,"t":2.08,"i":14},
{"p":"4L","c":7,"t":0,"i":0},{"p":"4L","c":7,"t":0.06,"i":4},{"p":"4L","c":7,"t":0.15,"i":6},{"p":"4L","c":7,"t":0.6,"i":7.5},{"p":"4L","c":7,"t":2.08,"i":8},
{"p":"4L","c":8,"t":0,"i":0},{"p":"4L","c":8,"t":0.06,"i":2},{"p":"4L","c":8,"t":0.15,"i":3},{"p":"4L","c":8,"t":0.6,"i":3.8},{"p":"4L","c":8,"t":2.08,"i":4}
],
"iv": [
{"r":1,"s":"o","v":-100,"i":0},{"r":1,"s":"o","v":-90,"i":0},{"r":1,"s":"o","v":-80,"i":0},{"r":1,"s":"o","v":-70,"i":0},{"r":1,"s":"o","v":-60,"i":0},{"r":1,"s":"o","v":-50,"i":0},{"r":1,"s":"o","v":-40,"i":0},{"r":1,"s":"o","v":-30,"i":0.3},{"r":1,"s":"o","v":-20,"i":1.2},{"r":1,"s":"o","v":-10,"i":2.7},{"r":1,"s":"o","v":0,"i":4.9},{"r":1,"s":"o","v":10,"i":9.4},{"r":1,"s":"o","v":20,"i":14.0},{"r":1,"s":"o","v":30,"i":19.1},{"r":1,"s":"o","v":40,"i":25.2},{"r":1,"s":"o","v":50,"i":32.2},{"r":1,"s":"o","v":60,"i":39.7},{"r":1,"s":"o","v":70,"i":46.9},{"r":1,"s":"o","v":80,"i":54.4},
{"r":1,"s":"f","v":-100,"i":-0.25},{"r":1,"s":"f","v":-90,"i":-0.25},{"r":1,"s":"f","v":-80,"i":-0.25},{"r":1,"s":"f","v":-70,"i":-0.25},{"r":1,"s":"f","v":-60,"i":-0.25},{"r":1,"s":"f","v":-50,"i":-0.25},{"r":1,"s":"f","v":-40,"i":-0.25},{"r":1,"s":"f","v":-30,"i":-0.25},{"r":1,"s":"f","v":-20,"i":-0.25},{"r":1,"s":"f","v":-10,"i":-0.25},{"r":1,"s":"f","v":0,"i":0},{"r":1,"s":"f","v":10,"i":1.1},{"r":1,"s":"f","v":20,"i":3.0},{"r":1,"s":"f","v":30,"i":6.4},{"r":1,"s":"f","v":40,"i":11.3},{"r":1,"s":"f","v":50,"i":17.6},{"r":1,"s":"f","v":60,"i":24.8},{"r":1,"s":"f","v":70,"i":32.8},{"r":1,"s":"f","v":80,"i":41.3},
{"r":2,"s":"o","v":-100,"i":-0.5},{"r":2,"s":"o","v":-90,"i":-0.5},{"r":2,"s":"o","v":-80,"i":-0.5},{"r":2,"s":"o","v":-70,"i":-0.5},{"r":2,"s":"o","v":-60,"i":-0.5},{"r":2,"s":"o","v":-50,"i":-0.5},{"r":2,"s":"o","v":-40,"i":0.2},{"r":2,"s":"o","v":-30,"i":0.6},{"r":2,"s":"o","v":-20,"i":1.3},{"r":2,"s":"o","v":-10,"i":2.2},{"r":2,"s":"o","v":0,"i":3.9},{"r":2,"s":"o","v":10,"i":5.7},{"r":2,"s":"o","v":20,"i":7.6},{"r":2,"s":"o","v":30,"i":10.0},{"r":2,"s":"o","v":40,"i":12.8},{"r":2,"s":"o","v":50,"i":15.6},{"r":2,"s":"o","v":60,"i":18.5},{"r":2,"s":"o","v":70,"i":21.5},{"r":2,"s":"o","v":80,"i":24.1},
{"r":2,"s":"f","v":-100,"i":-0.9},{"r":2,"s":"f","v":-90,"i":-0.9},{"r":2,"s":"f","v":-80,"i":-0.9},{"r":2,"s":"f","v":-70,"i":-0.9},{"r":2,"s":"f","v":-60,"i":-0.9},{"r":2,"s":"f","v":-50,"i":-0.9},{"r":2,"s":"f","v":-40,"i":-0.9},{"r":2,"s":"f","v":-30,"i":-0.9},{"r":2,"s":"f","v":-20,"i":-0.8},{"r":2,"s":"f","v":-10,"i":-0.5},{"r":2,"s":"f","v":0,"i":0.1},{"r":2,"s":"f","v":10,"i":0.9},{"r":2,"s":"f","v":20,"i":2.5},{"r":2,"s":"f","v":30,"i":4.1},{"r":2,"s":"f","v":40,"i":6.6},{"r":2,"s":"f","v":50,"i":9.5},{"r":2,"s":"f","v":60,"i":12.8},{"r":2,"s":"f","v":70,"i":16.4},{"r":2,"s":"f","v":80,"i":20.1},
{"r":3,"s":"o","v":-100,"i":-0.6},{"r":3,"s":"o","v":-90,"i":-0.6},{"r":3,"s":"o","v":-80,"i":-0.6},{"r":3,"s":"o","v":-70,"i":-0.6},{"r":3,"s":"o","v":-60,"i":-0.6},{"r":3,"s":"o","v":-50,"i":-0.6},{"r":3,"s":"o","v":-40,"i":0.5},{"r":3,"s":"o","v":-30,"i":1.4},{"r":3,"s":"o","v":-20,"i":3.6},{"r":3,"s":"o","v":-10,"i":6.0},{"r":3,"s":"o","v":0,"i":9.7},{"r":3,"s":"o","v":10,"i":14.2},{"r":3,"s":"o","v":20,"i":18.8},{"r":3,"s":"o","v":30,"i":24.9},{"r":3,"s":"o","v":40,"i":31.0},{"r":3,"s":"o","v":50,"i":37.2},{"r":3,"s":"o","v":60,"i":44.0},{"r":3,"s":"o","v":70,"i":50.6},{"r":3,"s":"o","v":80,"i":57.4},
{"r":3,"s":"f","v":-100,"i":-0.4},{"r":3,"s":"f","v":-90,"i":-0.4},{"r":3,"s":"f","v":-80,"i":-0.4},{"r":3,"s":"f","v":-70,"i":-0.4},{"r":3,"s":"f","v":-60,"i":-0.4},{"r":3,"s":"f","v":-50,"i":-0.4},{"r":3,"s":"f","v":-40,"i":-0.4},{"r":3,"s":"f","v":-30,"i":-0.4},{"r":3,"s":"f","v":-20,"i":-0.4},{"r":3,"s":"f","v":-10,"i":-0.4},{"r":3,"s":"f","v":0,"i":0},{"r":3,"s":"f","v":10,"i":1.2},{"r":3,"s":"f","v":20,"i":3.8},{"r":3,"s":"f","v":30,"i":7.6},{"r":3,"s":"f","v":40,"i":12.0},{"r":3,"s":"f","v":50,"i":18.6},{"r":3,"s":"f","v":60,"i":25.4},{"r":3,"s":"f","v":70,"i":32.7},{"r":3,"s":"f","v":80,"i":39.6},
{"r":4,"s":"o","v":-100,"i":-1.1},{"r":4,"s":"o","v":-90,"i":-1.1},{"r":4,"s":"o","v":-80,"i":-1.1},{"r":4,"s":"o","v":-70,"i":-1.1},{"r":4,"s":"o","v":-60,"i":-1.1},{"r":4,"s":"o","v":-50,"i":-1.1},{"r":4,"s":"o","v":-40,"i":-1.1},{"r":4,"s":"o","v":-30,"i":0},{"r":4,"s":"o","v":-20,"i":1.1},{"r":4,"s":"o","v":-10,"i":2.2},{"r":4,"s":"o","v":0,"i":3.9},{"r":4,"s":"o","v":10,"i":6.4},{"r":4,"s":"o","v":20,"i":9.3},{"r":4,"s":"o","v":30,"i":12.6},{"r":4,"s":"o","v":40,"i":15.9},{"r":4,"s":"o","v":50,"i":19.1},{"r":4,"s":"o","v":60,"i":22.3},{"r":4,"s":"o","v":70,"i":25.2},{"r":4,"s":"o","v":80,"i":27.9},
{"r":4,"s":"f","v":-100,"i":-0.9},{"r":4,"s":"f","v":-90,"i":-0.9},{"r":4,"s":"f","v":-80,"i":-0.9},{"r":4,"s":"f","v":-70,"i":-0.9},{"r":4,"s":"f","v":-60,"i":-0.9},{"r":4,"s":"f","v":-50,"i":-0.9},{"r":4,"s":"f","v":-40,"i":-0.9},{"r":4,"s":"f","v":-30,"i":-0.9},{"r":4,"s":"f","v":-20,"i":-0.9},{"r":4,"s":"f","v":-10,"i":-0.9},{"r":4,"s":"f","v":0,"i":-0.2},{"r":4,"s":"f","v":10,"i":1.0},{"r":4,"s":"f","v":20,"i":2.7},{"r":4,"s":"f","v":30,"i":5.2},{"r":4,"s":"f","v":40,"i":8.5},{"r":4,"s":"f","v":50,"i":12.9},{"r":4,"s":"f","v":60,"i":17.9},{"r":4,"s":"f","v":70,"i":22.8},{"r":4,"s":"f","v":80,"i":27.2}
],
"key": [
{"r":1,"s":"o","v":-65.8,"i":44.7},{"r":1,"s":"f","v":-54.8,"i":10.7},
{"r":2,"s":"o","v":-61.4,"i":21.1},{"r":2,"s":"f","v":-54.0,"i":5.4},
{"r":3,"s":"o","v":-61.2,"i":46.4},{"r":3,"s":"f","v":-53.7,"i":9.9},
{"r":4,"s":"o","v":-60.9,"i":22.4},{"r":4,"s":"f","v":-53.3,"i":6.4}
],
"ivr": [
{"r":1,"v":0,"i":0,"v2":0,"i2":60},{"r":1,"v":-100,"i":0,"v2":80,"i2":0},{"r":1,"v":-99.5,"i":31.9,"v2":-99.5,"i2":27.3},{"r":1,"v":-99.5,"i":27.3,"v2":-91.8,"i2":27.3},
{"r":2,"v":0,"i":0,"v2":0,"i2":30},{"r":2,"v":-100,"i":0,"v2":80,"i2":0},{"r":2,"v":-91.3,"i":16.8,"v2":-91.3,"i2":12.35},{"r":2,"v":-91.3,"i":12.35,"v2":-82.0,"i2":12.35},
{"r":3,"v":0,"i":0,"v2":0,"i2":60},{"r":3,"v":-100,"i":0,"v2":80,"i2":0},{"r":3,"v":-94.2,"i":28.8,"v2":-94.2,"i2":25.4},{"r":3,"v":-94.2,"i":25.4,"v2":-85.0,"i2":25.4},
{"r":4,"v":0,"i":0,"v2":0,"i2":30},{"r":4,"v":-100,"i":0,"v2":80,"i2":0},{"r":4,"v":-95.5,"i":16.5,"v2":-95.5,"i2":11.7},{"r":4,"v":-95.5,"i":11.7,"v2":-85.7,"i2":11.7}
],
"ivt": [
{"r":1,"a":"y","v":0,"i":20},{"r":1,"a":"y","v":0,"i":40},{"r":1,"a":"y","v":0,"i":60},{"r":1,"a":"x","v":20,"i":0},{"r":1,"a":"x","v":40,"i":0},{"r":1,"a":"x","v":60,"i":0},{"r":1,"a":"x","v":80,"i":0},
{"r":2,"a":"y","v":0,"i":10},{"r":2,"a":"y","v":0,"i":20},{"r":2,"a":"y","v":0,"i":30},{"r":2,"a":"x","v":20,"i":0},{"r":2,"a":"x","v":40,"i":0},{"r":2,"a":"x","v":60,"i":0},{"r":2,"a":"x","v":80,"i":0},
{"r":3,"a":"y","v":0,"i":20},{"r":3,"a":"y","v":0,"i":40},{"r":3,"a":"y","v":0,"i":60},{"r":3,"a":"x","v":20,"i":0},{"r":3,"a":"x","v":40,"i":0},{"r":3,"a":"x","v":60,"i":0},{"r":3,"a":"x","v":80,"i":0},
{"r":4,"a":"y","v":0,"i":10},{"r":4,"a":"y","v":0,"i":20},{"r":4,"a":"y","v":0,"i":30},{"r":4,"a":"x","v":20,"i":0},{"r":4,"a":"x","v":40,"i":0},{"r":4,"a":"x","v":60,"i":0},{"r":4,"a":"x","v":80,"i":0}
],
"txt": [
{"r":1,"k":"title","label":"YKC1⁺","v":-100.6,"i":60.0},
{"r":1,"k":"lab","label":"20 K⁺","v":-105.2,"i":42.9},
{"r":1,"k":"lab","label":"100 K⁺","v":-104.3,"i":9.6},
{"r":1,"k":"lab","label":"60 µA","v":6.7,"i":56.2},
{"r":2,"k":"title","label":"YKC1-101","v":-100.4,"i":30.06},
{"r":2,"k":"lab","label":"20 K⁺","v":-104.8,"i":20.2},
{"r":2,"k":"lab","label":"100 K⁺","v":-104.0,"i":4.1},
{"r":2,"k":"lab","label":"30 µA","v":7.2,"i":27.9},
{"r":3,"k":"title","label":"YKC1-301","v":-100.6,"i":62.6},
{"r":3,"k":"lab","label":"20 K⁺","v":-104.8,"i":44.8},
{"r":3,"k":"lab","label":"100 K⁺","v":-103.3,"i":8.6},
{"r":3,"k":"lab","label":"60 µA","v":8.4,"i":56.4},
{"r":4,"k":"title","label":"YKC1-402","v":-99.1,"i":29.8},
{"r":4,"k":"lab","label":"20 K⁺","v":-104.8,"i":21.05},
{"r":4,"k":"lab","label":"100 K⁺","v":-103.3,"i":4.9},
{"r":4,"k":"lab","label":"30 µA","v":9.1,"i":27.9},
{"r":4,"k":"tick","label":"-100","v":-101.7,"i":-5.78},
{"r":4,"k":"tick","label":"80","v":79.8,"i":-5.78},
{"r":4,"k":"vt","label":"V","v":-31.9,"i":-6.52},
{"r":4,"k":"vt","label":"(mV)","v":-7.5,"i":-6.52},
{"r":4,"k":"sub","label":"m","v":-20.9,"i":-7.05}
]
}
}
